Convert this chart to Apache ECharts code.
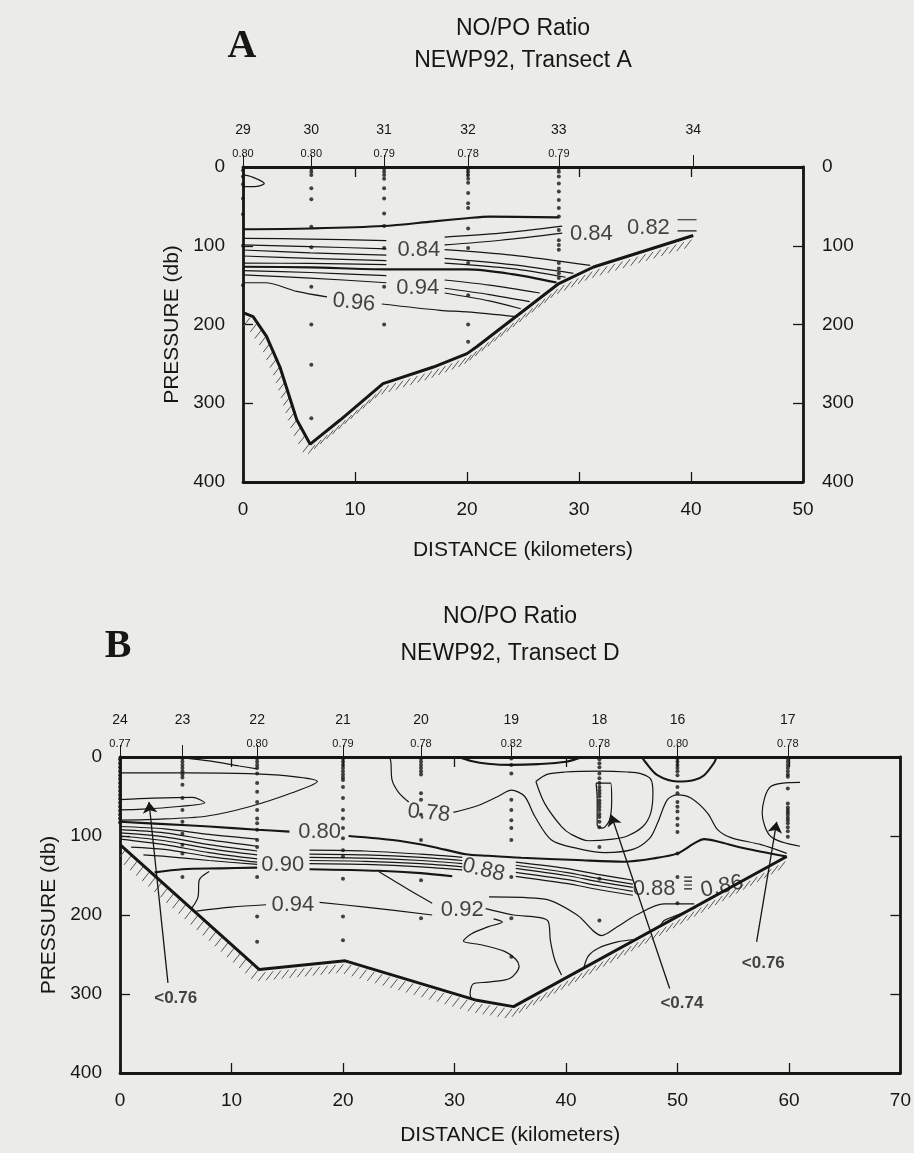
<!DOCTYPE html>
<html>
<head>
<meta charset="utf-8">
<script src="https://cdn.jsdelivr.net/npm/echarts@6/dist/echarts.min.js"></script>
<style>
  html, body { margin: 0; padding: 0; background: #ebebe8; }
  #chart { width: 914px; height: 1153px; }
</style>
</head>
<body>
<div id="chart"></div>
<script>
// ---- Transect A (stations, surface ratio, sample depths) ----
const stationsA = ['29', '30', '31', '32', '33', '34'];
const stationKmA = [0, 6.1, 12.6, 20.1, 28.2, 40.2];
const surfaceA = ['0.80', '0.80', '0.79', '0.78', '0.79', ''];
const samplesA = [
  [4, 12, 22, 40, 60, 100, 150],
  [2, 6, 10, 27, 41, 76, 102, 152, 200, 251, 319],
  [2, 6, 10, 15, 27, 40, 59, 75, 103, 152, 200],
  [2, 6, 10, 15, 20, 33, 46, 52, 78, 103, 122, 163, 200, 222],
  [2, 6, 12, 21, 31, 42, 52, 63, 80, 93, 99, 105, 122, 129, 135, 141],
  []
];
const bottomA = [[0, 185], [0.9, 190], [2.1, 215], [3.3, 254], [4.8, 321], [6.0, 352], [8.7, 321],
  [12.5, 275], [17, 254], [20, 237], [20.9, 228], [28.2, 148], [31.3, 127], [40.2, 87]];

// contour lines, transect A
const a080 = [[0, 79], [6, 78], [12.5, 75], [17, 69], [20, 65], [22, 63], [28.2, 64]];
const aMid = [[0, 126.6], [6, 127.5], [12.8, 130], [20, 130], [24, 136], [28, 146.7]];
const aLeft1 = [[0, 90.6], [6, 91.5], [12.8, 93.5]];
const aLeft2 = [[0, 99], [6, 101], [12.8, 104]];
const aLeft3 = [[0, 105.4], [6, 109], [12.8, 112]];
const aLeft4 = [[0, 113], [6, 116], [12.8, 119]];
const aLeft5 = [[0, 122], [6, 122.5], [12.8, 124]];
const aLeft6 = [[0, 131.7], [6, 134], [12.8, 138]];
const aLeft7 = [[0, 137], [6, 141], [12.8, 147]];
const aRight1 = [[18, 89], [23, 84], [28.5, 75]];
const aRight2 = [[18, 99], [23, 93], [28.5, 84]];
const aRight3 = [[18, 105], [24, 112], [31, 125]];
const aRight4 = [[18, 116], [24, 124], [29.5, 135]];
const aRight5 = [[18, 122], [24, 129], [28.8, 140]];
const aRight6 = [[18, 143.5], [22, 150], [26.5, 160]];
const aRight7 = [[18, 154], [22, 162], [25.6, 171]];
const aRight8 = [[18, 160], [22, 170], [24.8, 180]];
const a096West = [[0, 147], [2, 147], [4.8, 158], [7.5, 165]];
const a096East = [[12.4, 174], [17.6, 182], [20, 184], [24.4, 190]];
const aLens = [[0, 10], [0.7, 12], [1.9, 21], [1.0, 25], [0, 25]];
const aDash1 = [[38.8, 67], [40.5, 67]];
const aDash2 = [[38.8, 81], [40.5, 81]];
const labelTextA = ['0.84', '0.94', '0.96', '0.84', '0.82'];
const labelKmA = [15.7, 15.6, 9.9, 31.1, 36.2];
const labelDbA = [105, 154, 172, 85, 77];

// ---- Transect D (panel B) ----
const stationsB = ['24', '23', '22', '21', '20', '19', '18', '16', '17'];
const stationKmB = [0, 5.6, 12.3, 20.0, 27.0, 35.1, 43.0, 50.0, 59.9];
const surfaceB = ['0.77', '', '0.80', '0.79', '0.78', '0.82', '0.78', '0.80', '0.78'];
const samplesB = [
  [3, 8, 13, 18, 23, 28, 33, 38, 43, 48, 53, 58, 63, 68, 73, 78, 83],
  [2, 6, 10, 14, 18, 22, 26, 35, 52, 67, 82, 97, 111, 122, 152],
  [2, 6, 10, 14, 21, 33, 44, 57, 67, 78, 84, 92, 105, 114, 152, 202, 234],
  [2, 6, 10, 14, 18, 22, 26, 29, 38, 52, 67, 78, 90, 103, 118, 126, 154, 202, 232],
  [2, 6, 10, 14, 18, 22, 46, 54, 73, 105, 156, 204],
  [2, 10, 21, 54, 67, 80, 90, 105, 152, 204, 253],
  [3, 8, 13, 21, 27, 33, 38, 42, 46, 50, 55, 59, 63, 67, 72, 76, 82, 89, 114, 154, 207],
  [2, 6, 10, 14, 18, 23, 38, 46, 57, 63, 69, 78, 86, 95, 122, 152, 185],
  [2, 6, 10, 14, 18, 22, 25, 40, 59, 64, 67, 70, 73, 77, 80, 84, 89, 94, 101]
];
const bottomB = [[0, 111], [12.5, 269], [20.2, 258], [32, 308], [35.3, 316], [59.8, 126]];

// contour lines, transect D
const b080West = [[0, 82], [4, 85], [8, 88], [12.3, 92], [15.2, 94.5]];
const b080East = [[20.5, 100], [25, 106], [28, 113.5], [31, 123], [33, 125], [36, 127.5], [41, 130.4],
  [45.2, 132.5], [47.9, 128.3], [50, 122], [51.5, 109.3], [52.4, 104], [53.6, 107], [56, 115.6], [59.8, 126]];
const b090West = [[3.1, 146], [5.6, 142], [9, 141], [12.3, 140]];
const b090East = [[17, 142], [23.2, 144], [27, 147], [29.8, 151]];
const b19Cap = [[30.4, 0], [31.5, 5], [33, 8.5], [35.1, 10], [37.5, 9], [40, 6], [41.5, 0]];
const b16Cap = [[46.8, 0], [47.1, 6], [48.2, 23], [50, 31], [51.5, 29], [52.4, 23], [53.3, 7], [53.5, 0]];
const bSurf23 = [[5.7, 1], [8, 5], [10.7, 11.4], [12.3, 15]];
const bTongueOuter = [[0, 20], [6, 20], [11.6, 21], [15, 24], [17.7, 31], [15.5, 45], [11.6, 63], [7.7, 75], [3, 79], [0, 80]];
const bTongueInner = [[0, 54], [3, 52], [6.5, 51], [7.6, 58], [5, 63], [2, 66], [0, 67]];
const bLeft1 = [[0, 88], [4, 91], [8, 98], [12.3, 104]];
const bLeft2 = [[0, 92], [4, 96], [8, 105], [12.3, 113]];
const bLeft3 = [[0, 96], [4, 101], [8, 111], [12.3, 119]];
const bLeft4 = [[0, 100], [4, 106], [8, 116], [12.3, 124]];
const bLeft5 = [[0, 104], [4, 111], [8, 121], [12.3, 129]];
const bLeft6 = [[1, 114], [4, 117], [8, 126], [12.3, 133]];
const bLeft7 = [[2.1, 124], [5, 127], [8, 131], [12.3, 136]];
const bMid1 = [[17, 118], [22, 119], [27, 123], [30.7, 127]];
const bMid2 = [[17, 123], [22, 124], [27, 127], [30.7, 131]];
const bMid3 = [[17, 127], [22, 128], [27, 131], [30.7, 135]];
const bMid4 = [[17, 131], [22, 132], [27, 135], [30.7, 139]];
const bMid5 = [[17, 135], [22, 136], [27, 139], [30.7, 143]];
const bEast1 = [[35.5, 133], [40, 141], [43, 149], [46, 156]];
const bEast2 = [[35.5, 137], [40, 146], [43, 154], [46, 161]];
const bEast3 = [[35.5, 141], [40, 150], [43, 158], [46, 165]];
const bEast4 = [[35.5, 146], [40, 155], [43, 163], [46, 170]];
const bEast5 = [[35.5, 151], [40, 160], [43, 168], [46, 175]];
const bVee = [[33.1, 177], [38.1, 180], [41, 200], [43.2, 226], [44.6, 215], [46.3, 200], [48.8, 186], [51.5, 186]];
const bSlope = [[32.8, 192], [35.3, 200], [37.5, 203], [38.4, 208], [38.6, 232], [39, 257], [39.6, 276]];
const b092Mid = [[23.2, 145], [25.9, 168], [28, 185]];
const b094West = [[6.85, 195], [10, 190], [13.1, 187]];
const b094East = [[17.9, 184], [22, 190], [28, 200]];
const b092West = [[8, 145], [7.1, 156], [7, 177], [6.4, 192]];
const bWiggle = [[33.5, 205], [34.3, 209], [33, 215], [31.5, 224], [30.8, 233], [32.5, 238], [34.5, 246],
  [35.5, 256], [35.8, 265], [35, 280], [33, 285], [31.7, 287], [31.4, 300], [31.5, 306]];
const b078North = [[24.2, 0], [24.3, 7], [24.4, 29], [25, 45], [25.9, 57]];
const b078South = [[29.9, 70], [32, 62], [33.9, 50], [35.1, 42], [36.3, 50], [37.2, 75], [38.7, 105], [41.1, 116],
  [43.5, 121], [46, 117], [47.5, 103], [48.2, 84], [49.1, 54], [50, 48], [51.2, 52], [52.7, 71], [53.6, 92],
  [54.8, 102], [57.5, 111], [59.8, 122]];
const b076Loop18 = [[37.3, 31], [38.3, 22], [39.9, 19], [43, 18], [45.5, 19], [46.7, 21], [47.6, 28], [47.8, 45],
  [47.6, 71], [46.9, 88], [45.5, 100], [44.2, 104], [42, 106], [40.5, 98], [39.6, 88], [38.1, 59], [37.3, 31]];
const b074Loop18 = [[42.7, 33], [44, 33], [44.1, 55], [43.9, 80], [43.3, 90], [42.8, 86], [42.8, 54], [42.7, 33]];
const b076Loop17 = [[61, 32], [58.4, 37], [57.6, 71], [58.4, 101], [61, 113]];
const bLensA = [[41.6, 267], [42, 252], [42.9, 242], [44.6, 234], [46.2, 231]];
const bLensB = [[48.5, 213], [48.8, 207], [50, 200], [51.6, 191]];
const bTick1 = [[50.6, 152], [51.3, 152]];
const bTick2 = [[50.6, 157], [51.3, 157]];
const bTick3 = [[50.6, 162], [51.3, 162]];
const bTick4 = [[50.6, 167], [51.3, 167]];
const labelTextB = ['0.80', '0.90', '0.94', '0.92', '0.88', '0.78', '0.88', '0.86'];
const labelKmB = [17.9, 14.6, 15.5, 30.7, 32.6, 27.7, 47.9, 54];
const labelDbB = [95, 137, 187, 193, 143, 71, 167, 164];
const arrowFromB = [[4.3, 286], [49.3, 293], [57.1, 234]];
const arrowToB = [[2.6, 57], [44.05, 73], [58.9, 82]];
const arrowTextB = ['<0.76', '<0.74', '<0.76'];
const arrowTextKmB = [5, 50.4, 57.7];
const arrowTextDbB = [306, 312, 261];

// ---------------------------------------------------------------
const INK = '#161616';
const FONT = '"Liberation Sans", Arial, sans-serif';
const axA = { x: 0, y: 0 };
const axB = { x: 3, y: 2 };

function frameAxes(gridIndex, maxKm, stations, kms, ratios, rightLabels) {
  const line = { show: true, onZero: false, lineStyle: { color: INK, width: 2.8 } };
  const lab = { color: INK, fontSize: 19, fontFamily: FONT };
  const tick = { show: true, inside: true, length: 10, lineStyle: { color: INK, width: 1.3 } };
  const xs = [
    { type: 'value', gridIndex, position: 'bottom', min: 0, max: maxKm, interval: 10,
      axisLine: line, axisTick: tick, splitLine: { show: false },
      axisLabel: Object.assign({ margin: 18 }, lab),
      name: 'DISTANCE (kilometers)', nameLocation: 'middle', nameGap: gridIndex === 0 ? 58 : 52,
      nameTextStyle: { color: INK, fontSize: 21, fontFamily: FONT } },
    { type: 'value', gridIndex, position: 'top', min: 0, max: maxKm, interval: 10,
      axisLine: line, axisTick: tick, splitLine: { show: false }, axisLabel: { show: false } },
    { type: 'value', gridIndex, position: 'top', min: 0, max: maxKm,
      axisLine: { show: false, onZero: false }, splitLine: { show: false },
      axisTick: { show: true, inside: false, length: 12, customValues: kms, lineStyle: { color: INK, width: 1 } },
      axisLabel: { show: true, margin: 6, customValues: kms,
        formatter: v => {
          const i = kms.findIndex(k => Math.abs(k - v) < 1e-6);
          return '{n|' + stations[i] + '}\n{v|' + (ratios[i] || ' ') + '}';
        },
        rich: {
          n: { fontSize: 14, lineHeight: 34, color: INK, fontFamily: FONT },
          v: { fontSize: 11, lineHeight: 14, color: INK, fontFamily: FONT }
        } } }
  ];
  const ys = [
    { type: 'value', gridIndex, position: 'left', inverse: true, min: 0, max: 400, interval: 100,
      axisLine: line, axisTick: tick, splitLine: { show: false },
      axisLabel: Object.assign({ margin: 18 }, lab),
      name: 'PRESSURE (db)', nameLocation: 'middle', nameGap: 60, nameRotate: 90,
      nameTextStyle: { color: INK, fontSize: 21, fontFamily: FONT } },
    { type: 'value', gridIndex, position: 'right', inverse: true, min: 0, max: 400, interval: 100,
      axisLine: line, axisTick: tick, splitLine: { show: false },
      axisLabel: Object.assign({ margin: 19, show: rightLabels }, lab) }
  ];
  return { xs, ys };
}

function lineSeries(list, ax, width, smooth) {
  return list.map(d => ({
    type: 'line', xAxisIndex: ax.x, yAxisIndex: ax.y, data: d, symbol: 'none',
    smooth: smooth, silent: true, z: 3, lineStyle: { color: INK, width }
  }));
}

function hatchSeries(path, ax) {
  const segs = path.slice(1).map((p, i) => [path[i][0], path[i][1], p[0], p[1]]);
  return {
    type: 'custom', xAxisIndex: ax.x, yAxisIndex: ax.y, data: segs, clip: true, silent: true, z: 2,
    encode: { x: [0, 2], y: [1, 3] },
    renderItem: (params, api) => {
      const a = api.coord([api.value(0), api.value(1)]);
      const b = api.coord([api.value(2), api.value(3)]);
      const len = Math.hypot(b[0] - a[0], b[1] - a[1]);
      const n = Math.max(1, Math.round(len / 8));
      const children = [];
      for (let k = 0; k < n; k++) {
        const t = (k + 0.5) / n;
        const x = a[0] + (b[0] - a[0]) * t, y = a[1] + (b[1] - a[1]) * t;
        children.push({ type: 'line', shape: { x1: x + 2, y1: y + 3, x2: x - 5, y2: y + 12 },
          style: { stroke: '#555', lineWidth: 1 } });
      }
      return { type: 'group', children };
    }
  };
}

function dotSeries(kms, samples, ax) {
  const data = [];
  kms.forEach((k, i) => samples[i].forEach(d => data.push([k, d])));
  return { type: 'scatter', xAxisIndex: ax.x, yAxisIndex: ax.y, data, symbolSize: 4, z: 4, silent: true,
    itemStyle: { color: INK } };
}

function textSeries(texts, kms, dbs, rots, ax, size, weight) {
  return {
    type: 'scatter', xAxisIndex: ax.x, yAxisIndex: ax.y, symbolSize: 1, z: 5, silent: true,
    itemStyle: { color: 'rgba(0,0,0,0)' },
    data: texts.map((t, i) => ({ value: [kms[i], dbs[i]], name: t, label: { rotate: rots[i] } })),
    label: { show: true, position: 'inside', formatter: p => p.name, color: INK,
      fontSize: size, fontFamily: FONT, fontWeight: weight }
  };
}

const fa = frameAxes(0, 50, stationsA, stationKmA, surfaceA, true);
const fb = frameAxes(1, 70, stationsB, stationKmB, surfaceB, false);

const series = [].concat(
  hatchSeries(bottomA, axA),
  lineSeries([bottomA], axA, 3, false),
  lineSeries([aLeft1, aLeft2, aLeft3, aLeft4, aLeft5, aLeft6, aLeft7, aRight1, aRight2, aRight3, aRight4,
    aRight5, aRight6, aRight7, aRight8, a096West, a096East, aLens, aDash1, aDash2], axA, 1.2, 0.3),
  lineSeries([a080, aMid], axA, 2.1, 0.3),
  dotSeries(stationKmA, samplesA, axA),
  textSeries(labelTextA, labelKmA, labelDbA, [0, 0, -6, 0, 0], axA, 22, 'normal'),

  hatchSeries(bottomB, axB),
  lineSeries([bottomB], axB, 3, false),
  lineSeries([bSurf23, bTongueOuter, bTongueInner, bLeft1, bLeft2, bLeft3, bLeft4, bLeft5, bLeft6, bLeft7,
    bMid1, bMid2, bMid3, bMid4, bMid5, bEast1, bEast2, bEast3, bEast4, bEast5, bVee, bSlope, b092Mid,
    b094West, b094East, b092West, bWiggle, b078North, b078South, b076Loop18, b074Loop18, b076Loop17,
    bLensA, bLensB, bTick1, bTick2, bTick3, bTick4], axB, 1.2, 0.3),
  lineSeries([b080West, b080East, b090West, b090East, b19Cap, b16Cap], axB, 2.1, 0.3),
  dotSeries(stationKmB, samplesB, axB),
  textSeries(labelTextB, labelKmB, labelDbB, [0, 0, 0, 0, -14, -6, 0, 12], axB, 22, 'normal'),
  {
    type: 'lines', coordinateSystem: 'cartesian2d', xAxisIndex: axB.x, yAxisIndex: axB.y, z: 4, silent: true,
    symbol: ['none', 'arrow'], symbolSize: [0, 11],
    lineStyle: { color: INK, width: 1.3, opacity: 1 },
    data: arrowFromB.map((p, i) => ({ coords: [p, arrowToB[i]] }))
  },
  textSeries(arrowTextB, arrowTextKmB, arrowTextDbB, [0, 0, 0], axB, 17, 'bold')
);

const titleStyle = (text, x, y, size, family, weight) => ({
  type: 'text', x, y, silent: true,
  style: { text, fill: INK, font: (weight || 'normal') + ' ' + size + 'px ' + family, align: 'center', verticalAlign: 'middle' }
});

const chart = echarts.init(document.getElementById('chart'), null, { renderer: 'canvas' });
chart.setOption({
  animation: false,
  backgroundColor: '#ebebe8',
  grid: [
    { left: 243, top: 167, width: 560, height: 315 },
    { left: 120, top: 757, width: 784, height: 316 }
  ],
  xAxis: fa.xs.concat(fb.xs),
  yAxis: fa.ys.concat(fb.ys),
  graphic: [
    titleStyle('A', 242, 47, 40, '"Liberation Serif", serif', 'bold'),
    titleStyle('NO/PO Ratio', 523, 29, 23, FONT),
    titleStyle('NEWP92, Transect A', 523, 61, 23, FONT),
    titleStyle('B', 118, 647, 40, '"Liberation Serif", serif', 'bold'),
    titleStyle('NO/PO Ratio', 510, 617, 23, FONT),
    titleStyle('NEWP92, Transect D', 510, 654, 23, FONT)
  ],
  series
});
</script>
</body>
</html>
